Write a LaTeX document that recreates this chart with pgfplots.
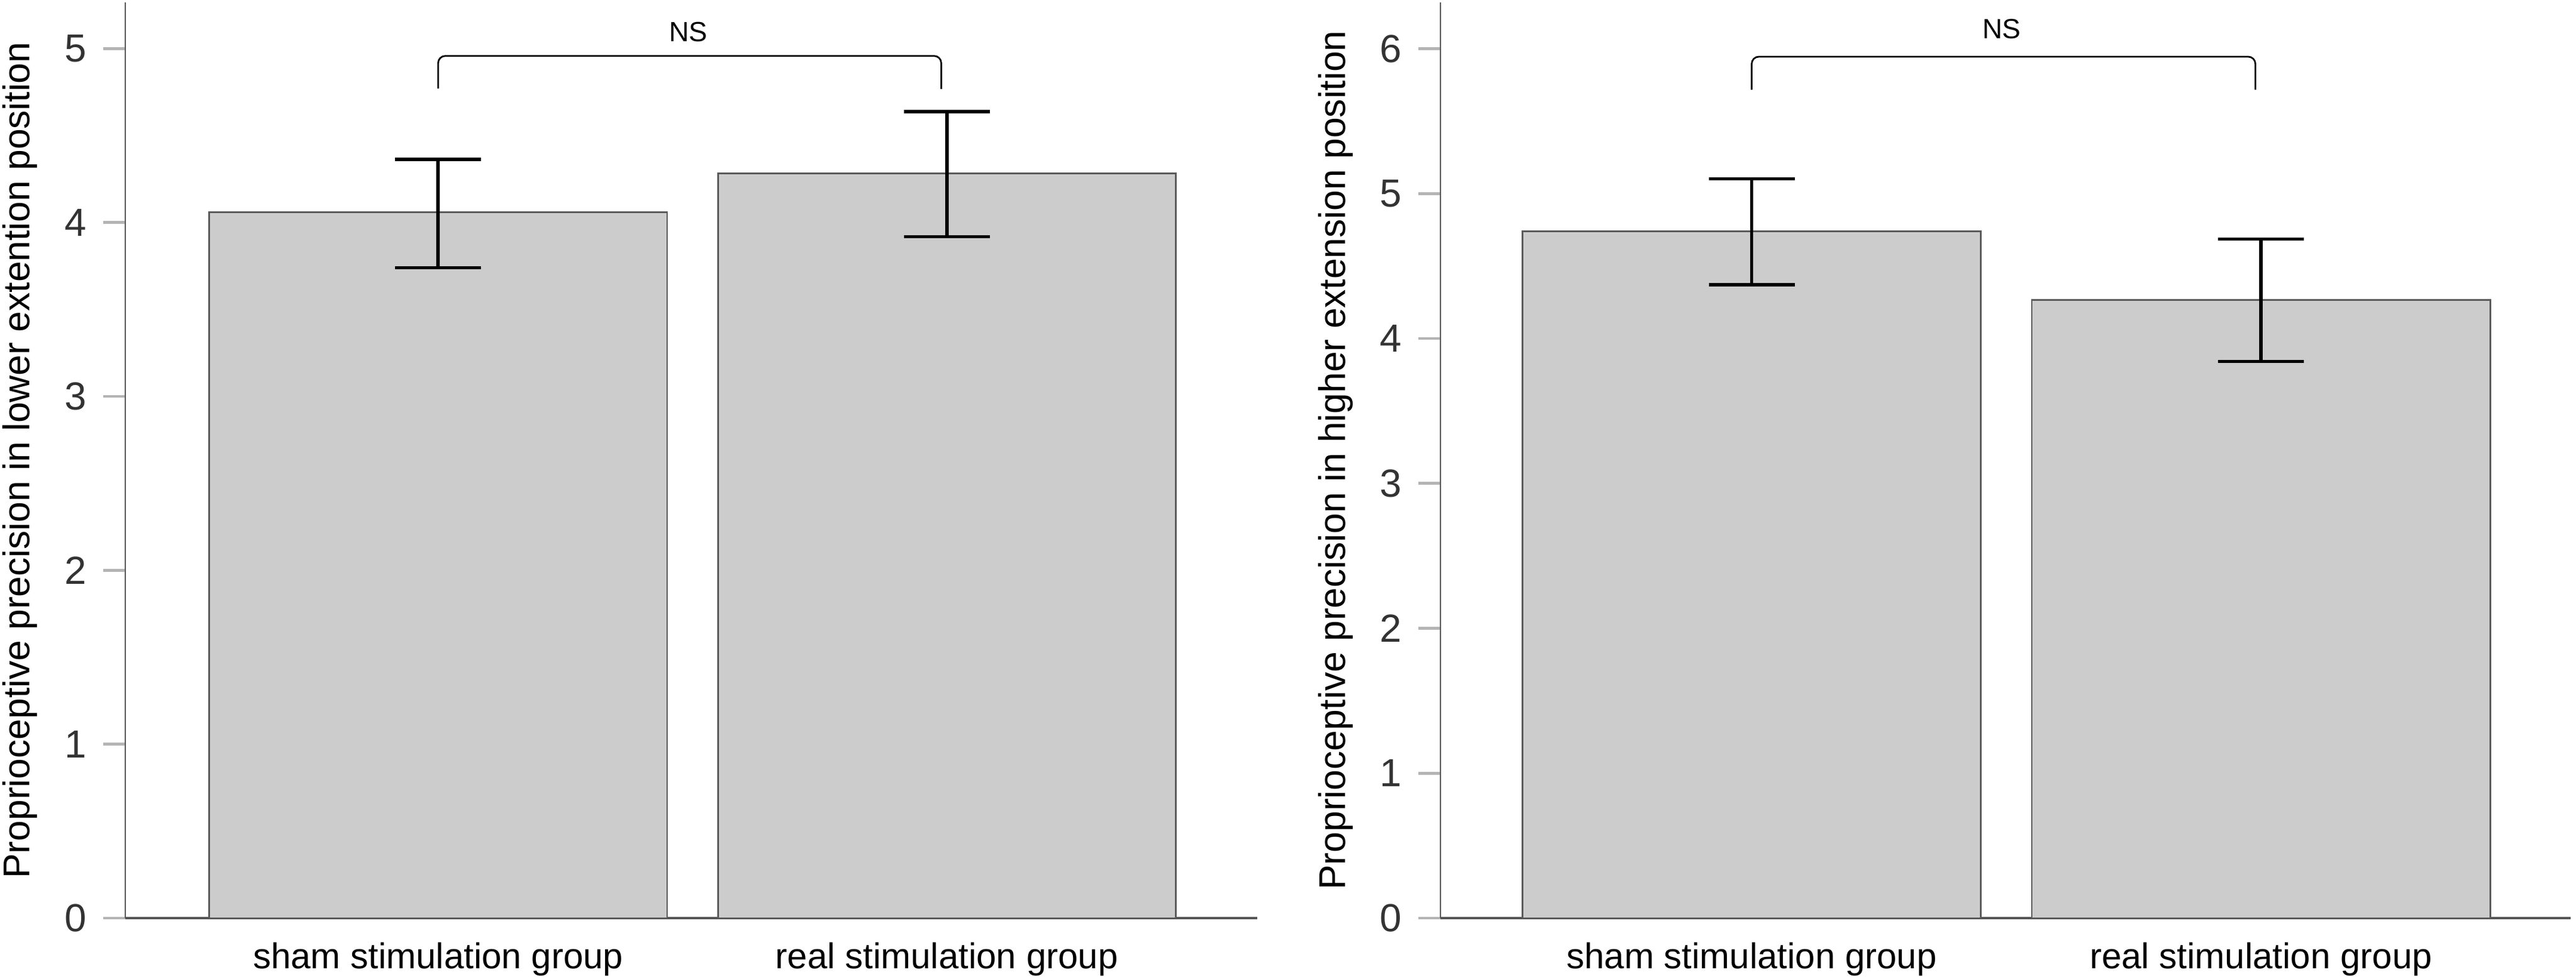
\documentclass[border=0pt]{standalone}
\usepackage{fontspec}
\setmainfont{Liberation Sans}
\usepackage{pgfplots}
\pgfplotsset{compat=1.18}
\definecolor{barfill}{HTML}{CCCCCC}
\definecolor{bardraw}{HTML}{5A5A5A}
\definecolor{axisgray}{HTML}{555555}
\definecolor{tickgray}{HTML}{B4B4B4}
\definecolor{labelgray}{HTML}{333333}
\pgfplotsset{
  myaxis/.style={
    scale only axis, height=191.75pt, anchor=south west,
    ymin=0, clip=false,
    ybar, bar width=0.9,
    axis lines*=left,
    x axis line style={draw=axisgray, line width=0.6pt},
    y axis line style={draw=axisgray, line width=0.35pt},
    tick align=outside, major tick length=4.6pt,
    xtick={0,1}, xticklabels={sham stimulation group, real stimulation group},
    x tick style={draw=none},
    y tick style={draw=tickgray, line width=0.6pt},
    /pgf/number format/assume math mode=true,
    xticklabel style={font=\fontsize{7.5}{9}\selectfont, anchor=base, yshift=-5.9pt},
    yticklabel style={font=\fontsize{8.2}{10}\selectfont, color=labelgray},
    every axis y label/.style={at={(rel axis cs:0,0.5)}, xshift=-20pt, rotate=90, anchor=base, font=\fontsize{7.8}{9}\selectfont},
  },
  mybar/.style={fill=barfill, draw=bardraw, line width=0.35pt,
    error bars/.cd, y dir=both, y explicit,
    error bar style={line width=0.7pt, black},
    error mark options={rotate=90, mark size=9pt, line width=0.7pt, black}},
}
\begin{document}
\begin{tikzpicture}
\begin{axis}[myaxis, at={(26.25pt,12.625pt)}, width=237.1pt,
  xmin=-0.615, xmax=1.61, ymax=5.266, ytick={0,1,2,3,4,5},
  ylabel={Proprioceptive precision in lower extention position}]
\addplot[mybar] coordinates {
  (0,4.058) += (0,0.306) -= (0,0.318)
  (1,4.281) += (0,0.357) -= (0,0.362)
};
\draw[line width=0.35pt, rounded corners=1.5pt] (axis cs:0,4.77) -- (axis cs:0,4.958) -- (axis cs:0.989,4.958) -- (axis cs:0.989,4.768);
\node[font=\fontsize{5.8}{7}\selectfont] at (axis cs:0.492,5.096) {NS};
\end{axis}
\begin{axis}[myaxis, at={(301.75pt,12.625pt)}, width=236.75pt,
  xmin=-0.611, xmax=1.608, ymax=6.32, ytick={0,1,2,3,4,5,6},
  ylabel={Proprioceptive precision in higher extension position}]
\addplot[mybar] coordinates {
  (0,4.740) += (0,0.363) -= (0,0.368)
  (1,4.265) += (0,0.422) -= (0,0.424)
};
\draw[line width=0.35pt, rounded corners=1.5pt] (axis cs:0,5.717) -- (axis cs:0,5.945) -- (axis cs:0.989,5.945) -- (axis cs:0.989,5.717);
\node[font=\fontsize{5.8}{7}\selectfont] at (axis cs:0.491,6.135) {NS};
\end{axis}
\pgfresetboundingbox
\path[use as bounding box] (0,0) rectangle (539.625pt,204.875pt);
\end{tikzpicture}
\end{document}
